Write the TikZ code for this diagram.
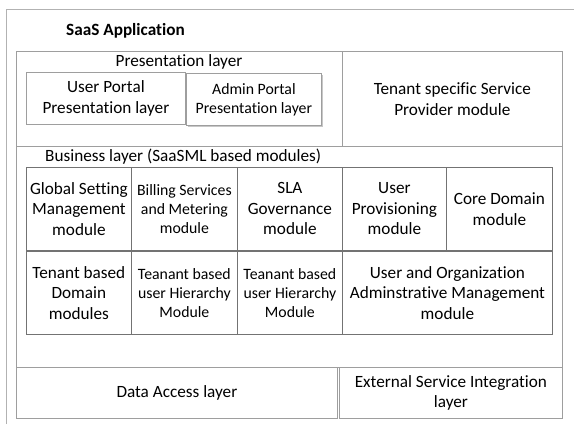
\documentclass[tikz,border=0pt]{standalone}
\usepackage{fontspec}
\setmainfont[Ligatures=NoCommon]{Carlito}
\usetikzlibrary{positioning, shadows}

\begin{document}
\begin{tikzpicture}[x=1pt, y=-1pt, font=\fontsize{17.2}{20.5}\selectfont]
                % Styles
                \tikzstyle{layer} = [rectangle, draw=black!38, line width=0.8pt, anchor=north west, inner sep=0pt, align=center]
                \tikzstyle{cell} = [rectangle, draw=black!55, line width=0.8pt, anchor=north west, inner sep=0pt, align=center, minimum height=83pt]
                \tikzstyle{small} = [font=\fontsize{15.8}{19}\selectfont]
                \tikzstyle{caption} = [inner sep=0pt]

                \useasboundingbox (0,0) rectangle (574,424);

                % Frame
                \coordinate (framebl) at (6,424);
                \coordinate (frametl) at (6,9);
                \coordinate (frametr) at (574,9);
                \draw [black!30, line width=0.8pt] (framebl) -- (frametl) -- (frametr);

                % Nodes
                \node (title) [caption, anchor=west, font=\fontsize{17.2}{20.5}\selectfont\bfseries] at (66,31) {SaaS Application};
                \node (pres) [layer, minimum width=326pt, minimum height=95pt] at (16,51) {};
                \node (preslabel) [caption] at (179,62) {Presentation layer};
                \node (userportal) [layer, minimum width=159pt, minimum height=52pt] at (26,72) {User Portal\\Presentation layer};
                \node (adminportal) [layer, small, fill=white, minimum width=135pt, minimum height=52pt,
                    drop shadow={shadow xshift=2pt, shadow yshift=-2pt, fill=black!22, opacity=1}] at (186,73) {Admin Portal\\Presentation layer};
                \node (tenant) [layer, minimum width=220pt, minimum height=95pt] at (342,51) {Tenant specific Service\\Provider module};
                \node (business) [layer, minimum width=546pt, minimum height=221pt] at (16,146) {};
                \node (buslabel) [caption, anchor=west] at (45,157) {Business layer (SaaSML based modules)};

                \node (global) [cell, minimum width=105pt] at (26,167) {Global Setting\\Management\\module};
                \node (billing) [cell, small, minimum width=106pt] at (131,167) {Billing Services\\and Metering\\module};
                \node (sla) [cell, minimum width=105pt] at (237,167) {SLA\\Governance\\module};
                \node (provisioning) [cell, minimum width=104pt] at (342,167) {User\\Provisioning\\module};
                \node (coredomain) [cell, minimum width=106pt] at (446,167) {Core Domain\\module};
                \node (tenantdomain) [cell, minimum width=105pt] at (26,251) {Tenant based\\Domain\\modules};
                \node (hierarchyA) [cell, small, minimum width=106pt] at (131,251) {Teanant based\\user Hierarchy\\Module};
                \node (hierarchyB) [cell, small, minimum width=105pt] at (237,251) {Teanant based\\user Hierarchy\\Module};
                \node (orgadmin) [cell, minimum width=210pt] at (342,251) {User and Organization\\Adminstrative Management\\module};

                \node (dataaccess) [layer, minimum width=321pt, minimum height=51pt] at (16,367) {Data Access layer};
                \node (external) [layer, minimum width=223pt, minimum height=51pt] at (339,367) {External Service Integration\\layer};

        \end{tikzpicture}
\end{document}
